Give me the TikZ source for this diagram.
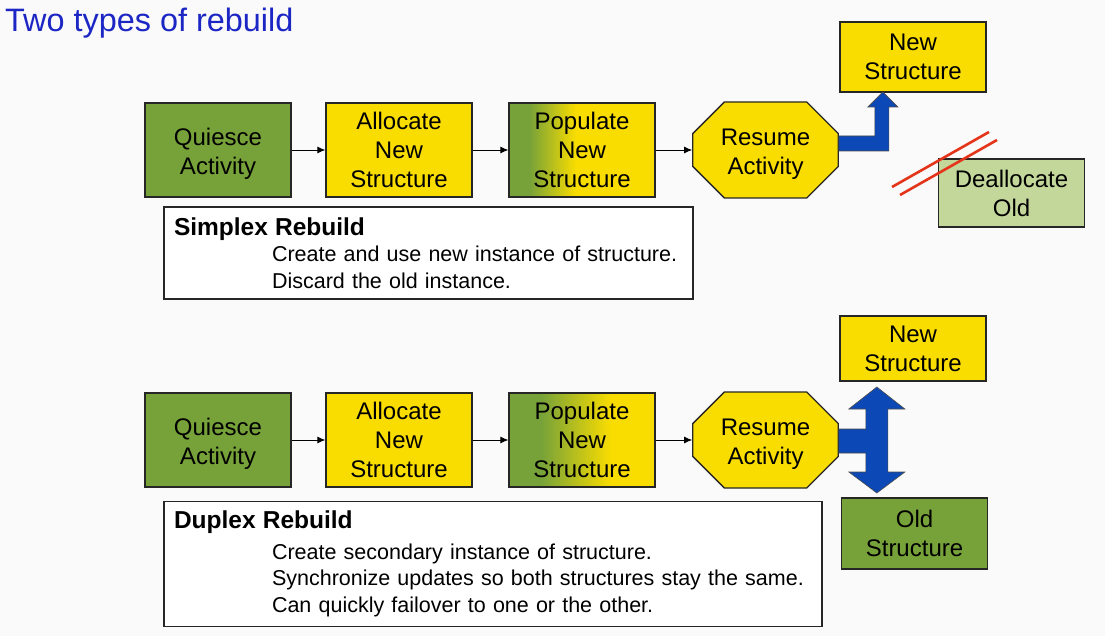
\documentclass[tikz,border=0pt]{standalone}
\usepackage{fontspec}
\setmainfont{Liberation Sans}
\usepackage{xcolor}
\usepackage{tikz}
\usetikzlibrary{arrows.meta,calc,positioning,shapes.misc}

\definecolor{qgreen}{RGB}{119,162,57}
\definecolor{qyellow}{RGB}{250,221,0}
\definecolor{palegreen}{RGB}{196,215,155}
\definecolor{arrowblue}{RGB}{12,72,182}
\definecolor{crossred}{RGB}{228,52,26}
\definecolor{titleblue}{RGB}{28,38,196}
\definecolor{slidebg}{RGB}{250,250,250}

\pgfdeclarehorizontalshading{pop1}{100bp}{color(0bp)=(qgreen); color(32bp)=(qgreen); color(48bp)=(qyellow); color(100bp)=(qyellow)}
\pgfdeclarehorizontalshading{pop2}{100bp}{color(0bp)=(qgreen); color(36bp)=(qgreen); color(60bp)=(qyellow); color(100bp)=(qyellow)}

\begin{document}
\begin{tikzpicture}[x=1pt,y=-1pt,
    step box/.style={draw=black!85,line width=1.3pt,minimum width=146pt,minimum height=94pt,
      align=center,inner sep=0pt,font=\fontsize{24}{29}\selectfont},
    small box/.style={step box,minimum height=70pt},
    resume box/.style={step box,chamfered rectangle,chamfered rectangle xsep=28pt,
      minimum width=145pt,minimum height=96pt,fill=qyellow},
    note box/.style={draw=black!85,line width=1.1pt,fill=white,align=left,inner sep=10pt,
      font=\fontsize{21.5}{26.5}\selectfont},
    flow/.style={color=black,-{Latex[length=8pt,width=7pt]},line width=0.9pt},
    fat arrow/.style={fill=arrowblue,draw=black!70,line width=0.6pt}]

  % page
  \fill[slidebg] (0,0) rectangle (1105,636);
  \useasboundingbox (0,0) rectangle (1105,636);

  % title
  \node[anchor=west,inner sep=0pt,text=titleblue,font=\fontsize{32.4}{36}\selectfont] (title) at (5,23) {Two types of rebuild};

  % the two rows of steps
  \foreach \r/\y in {1/150,2/440} {
    \node[step box,fill=qgreen] (qui\r) at (218,\y) {\rule{0pt}{25pt}Quiesce\\Activity};
    \node[step box,fill=qyellow] (alloc\r) at (399,\y) {Allocate\\New\\Structure};
    \node[step box,shading=pop\r] (pop\r) at (582,\y) {Populate\\New\\Structure};
    \node[resume box] (res\r) at (765.5,\y) {\rule{0pt}{25pt}Resume\\Activity};
  }
  \foreach \r in {1,2} {
    \draw[flow] (qui\r) -- (alloc\r);
    \draw[flow] (alloc\r) -- (pop\r);
    \draw[flow] (pop\r.east) -- (res\r.west);
  }

  % simplex: new structure, old one dropped
  \node[small box,fill=qyellow] (new1) at (913,57) {New\\Structure};
  \node[small box,fill=palegreen,minimum height=68pt] (dealloc) at (1011.5,193) {Deallocate\\Old};
  \draw[crossred,line width=2.6pt] (892,187) -- (989,132);
  \draw[crossred,line width=2.6pt] (900,195) -- (997,140);
  \draw[fat arrow] ($(res1.east)+(0,-14)$) -- ++(36,0) -- ++(0,-29) -- ++(-7,0)
    -- ++(15,-15) -- ++(15,15) -- ++(-9,0) -- ++(0,44) -- ++(-50,0) -- cycle;

  % duplex: new and old kept
  \node[small box,fill=qyellow,minimum height=65pt] (new2) at (913,348.5) {New\\Structure};
  \node[small box,fill=qgreen,minimum height=71pt] (old2) at (914.5,533.5) {Old\\Structure};
  \draw[fat arrow] ($(res2.east)+(0,-11)$) -- ++(27,0) -- ++(0,-20) -- ++(-17,0)
    -- ++(28,-22) -- ++(28,22) -- ++(-17,0) -- ++(0,63) -- ++(17,0)
    -- ++(-28,21) -- ++(-28,-21) -- ++(17,0) -- ++(0,-19) -- ++(-27,0) -- cycle;

  % notes
  \node[note box,text width=509pt,minimum height=92pt] (simplex) at (428.5,253)
    {{\fontsize{24.5}{27}\selectfont\bfseries Simplex Rebuild}\\
     \hspace*{98pt}\mbox{Create and use new instance of structure.}\\
     \hspace*{98pt}\mbox{Discard the old instance.}};
  \node[note box,text width=638pt,minimum height=122pt] (duplex) at (493,564)
    {{\fontsize{24.5}{27}\selectfont\bfseries Duplex Rebuild}\\[4pt]
     \hspace*{98pt}\mbox{Create secondary instance of structure.}\\
     \hspace*{98pt}\mbox{Synchronize updates so both structures stay the same.}\\
     \hspace*{98pt}\mbox{Can quickly failover to one or the other.}};
\end{tikzpicture}
\end{document}
